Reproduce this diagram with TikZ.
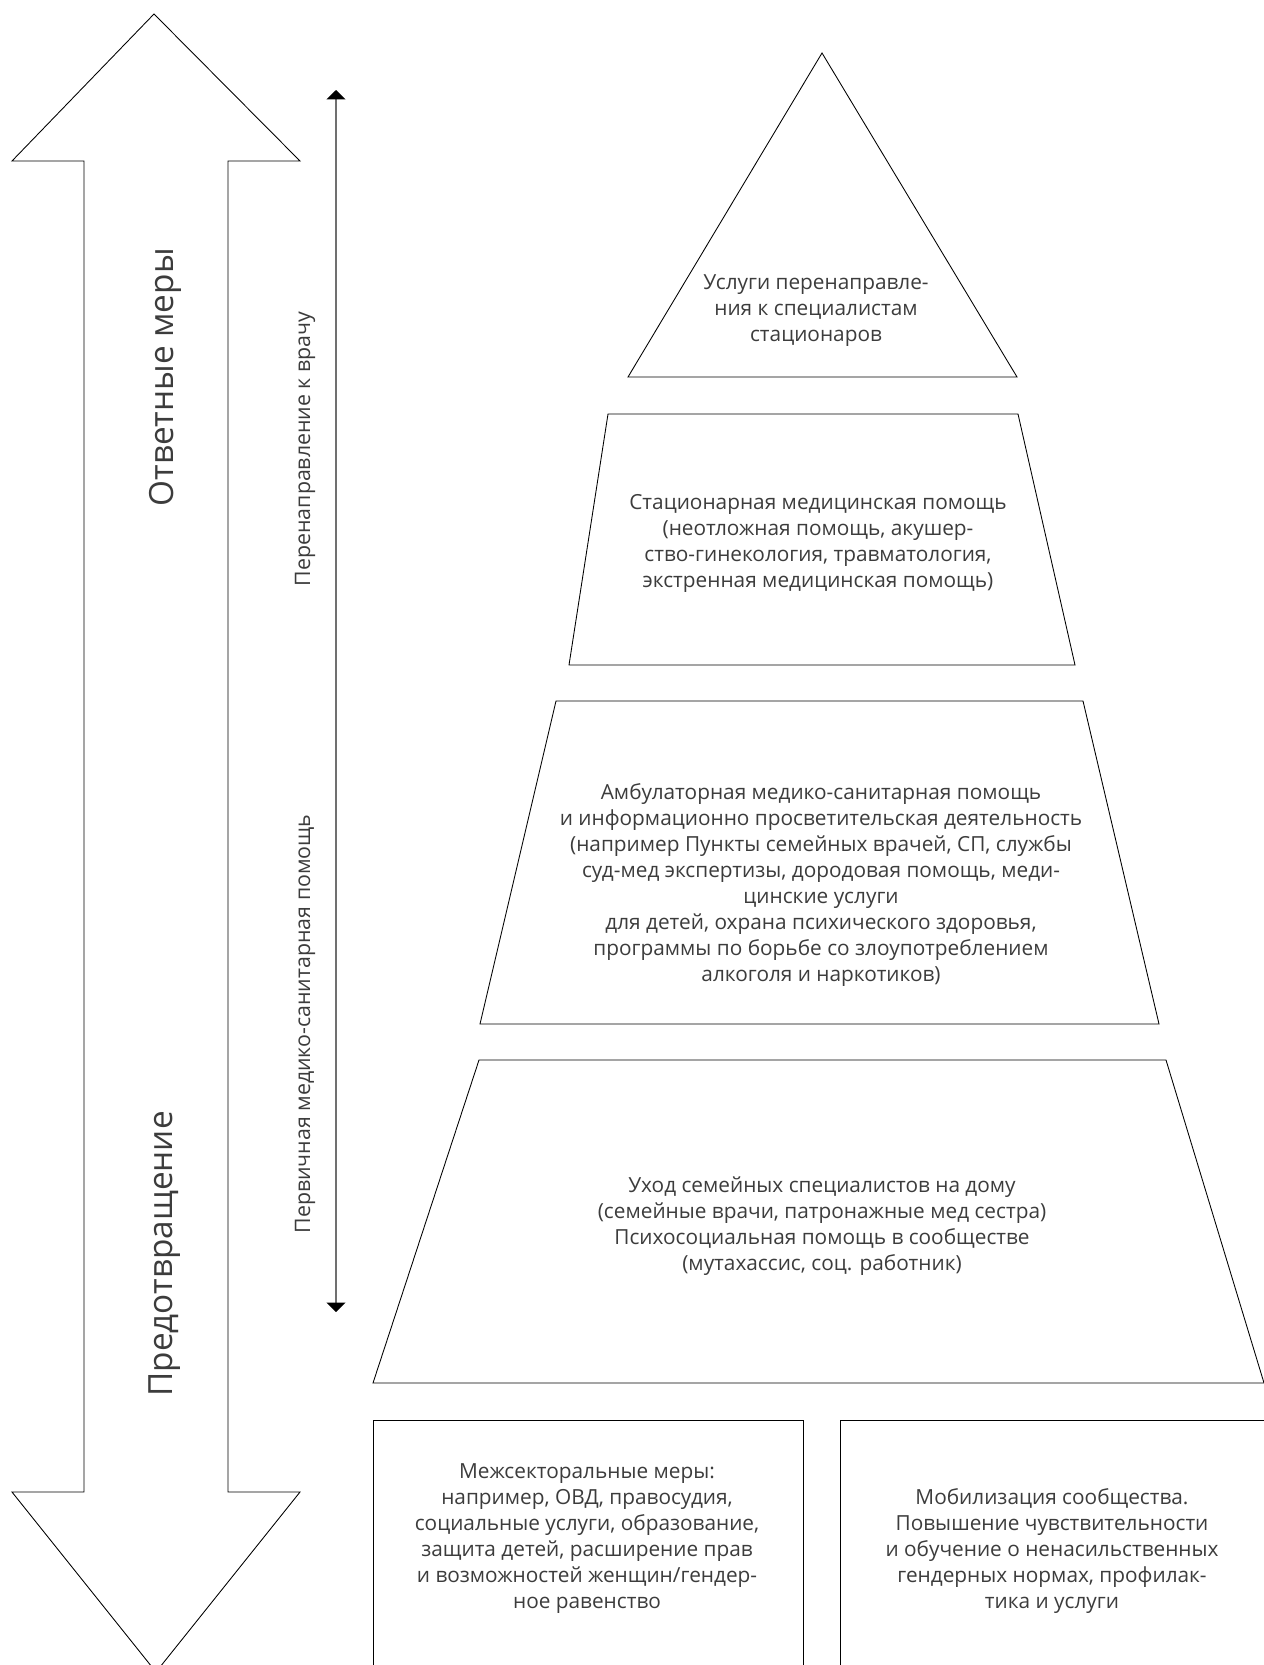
\documentclass[tikz,border=0pt]{standalone}
\usepackage{fontspec}
\setmainfont{Open Sans}
\usetikzlibrary{arrows.meta}

\definecolor{txtgray}{RGB}{60,60,60}
\definecolor{linegray}{RGB}{112,112,112}

\tikzset{
  leveltext/.style={align=center, inner sep=0.75pt, color=txtgray, font=\fontsize{15.6}{19.5}\selectfont},
  sidetext/.style={rotate=90, inner sep=0pt, color=txtgray, font=\fontsize{16}{18}\selectfont},
  bigtext/.style={rotate=90, inner sep=0pt, color=txtgray, font=\fontsize{25}{29}\selectfont},
  outline/.style={line width=0.65pt}
}

\begin{document}
\begin{tikzpicture}[x=0.75pt,y=0.75pt,yscale=-1,xscale=1]
\useasboundingbox (0,0) rectangle (1263,1665);

%Shape: Up Down Arrow
\draw [outline] (154,14) -- (300,161) -- (228,161) -- (228,1492) -- (300,1492) -- (156,1672) -- (12,1492) -- (84,1492) -- (84,161) -- (12,161) -- cycle ;

%Straight Lines with both ends
\coordinate (reftop) at (336,90);
\coordinate (refbot) at (336,1312);
\draw [color=linegray, line width=1.4pt, {Triangle[width=14pt,length=7pt,color=black]}-{Triangle[width=14pt,length=7pt,color=black]}] (refbot) -- (reftop) ;

%Shape: Triangle
\draw [outline] (822,53) -- (1017,377) -- (628,377) -- cycle ;
%Shape: Trapezoid
\draw [outline] (608,414) -- (1018,414) -- (1075,665) -- (569,665) -- cycle ;
%Shape: Trapezoid
\draw [outline] (556,701) -- (1083,701) -- (1159,1024) -- (480,1024) -- cycle ;
%Shape: Trapezoid
\draw [outline] (479,1060) -- (1166,1060) -- (1264,1383) -- (373,1383) -- cycle ;
%Shape: Rectangle
\draw [outline] (373,1420) rectangle (803,1700) ;
%Shape: Rectangle
\draw [outline] (840,1420) rectangle (1300,1700) ;

% Text Node
\draw (165,248) node (respond) [bigtext, anchor=east] {Ответные меры};
% Text Node
\draw (165,1111) node (prevent) [bigtext, anchor=east] {Предотвращение};
% Text Node
\draw (305,449) node (referral) [sidetext] {Перенаправление к врачу};
% Text Node
\draw (305,1024) node (primary) [sidetext] {Первичная медико-санитарная помощь};

% Text Node
\draw (816,311) node (lvlspec) [leveltext] {Услуги перенаправле-\\ния к специалистам\\стационаров};
% Text Node
\draw (818,543) node (lvlhosp) [leveltext] {Стационарная медицинская помощь\\(неотложная помощь, акушер-\\ство-гинекология, травматология,\\экстренная медицинская помощь)};
% Text Node
\draw (821,885) node (lvlamb) [leveltext] {Амбулаторная медико-санитарная помощь\\и информационно просветительская деятельность\\(например Пункты семейных врачей, СП, службы\\суд-мед экспертизы, дородовая помощь, меди-\\цинские услуги\\для детей, охрана психического здоровья,\\программы по борьбе со злоупотреблением\\алкоголя и наркотиков)};
% Text Node
\draw (822,1226) node (lvlhome) [leveltext] {Уход семейных специалистов на дому\\(семейные врачи, патронажные мед сестра)\\Психосоциальная помощь в сообществе\\(мутахассис, соц. работник)};
% Text Node
\draw (587,1539) node (intersect) [leveltext] {Межсекторальные меры:\\например, ОВД, правосудия,\\социальные услуги, образование,\\защита детей, расширение прав\\и возможностей женщин/гендер-\\ное равенство};
% Text Node
\draw (1052,1551) node (mobilize) [leveltext] {Мобилизация сообщества.\\Повышение чувствительности\\и обучение о ненасильственных\\гендерных нормах, профилак-\\тика и услуги};

\end{tikzpicture}
\end{document}
